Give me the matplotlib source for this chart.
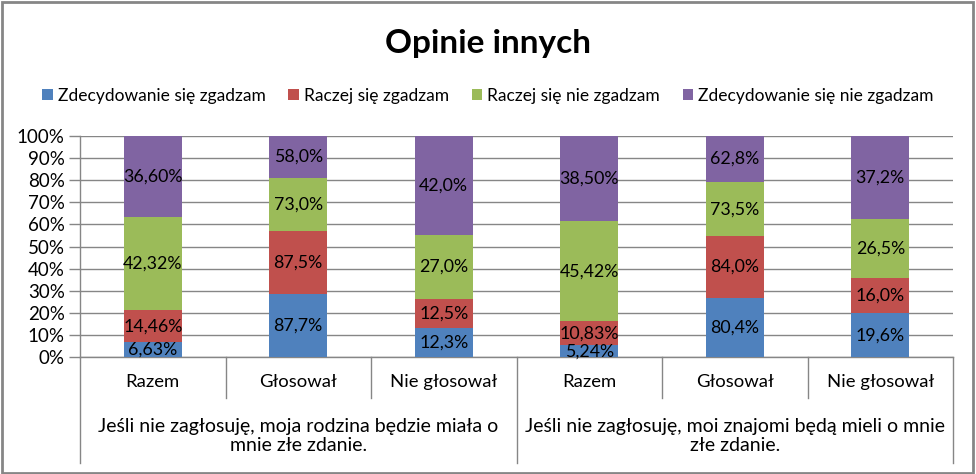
import numpy as np
import matplotlib.pyplot as plt
from matplotlib.patches import Rectangle

plt.rcParams['font.family'] = ['Lato', 'DejaVu Sans']

# Data
categories = ['Razem', 'Głosował', 'Nie głosował', 'Razem', 'Głosował', 'Nie głosował']
groups = ['Jeśli nie zagłosuję, moja rodzina będzie miała o\nmnie złe zdanie.',
          'Jeśli nie zagłosuję, moi znajomi będą mieli o mnie\nzłe zdanie.']
series = ['Zdecydowanie się zgadzam', 'Raczej się zgadzam',
          'Raczej się nie zgadzam', 'Zdecydowanie się nie zgadzam']
strongly_agree = [6.63, 87.7, 12.3, 5.24, 80.4, 19.6]
agree = [14.46, 87.5, 12.5, 10.83, 84.0, 16.0]
disagree = [42.32, 73.0, 27.0, 45.42, 73.5, 26.5]
strongly_disagree = [36.60, 58.0, 42.0, 38.50, 62.8, 37.2]
decimals = [2, 1, 1, 2, 1, 1]
colors = ['#4F81BD', '#C0504D', '#9BBB59', '#8064A2']

W, H = 976, 474
fig = plt.figure(figsize=(W / 100, H / 100), dpi=100)
ax = fig.add_axes([80 / W, (H - 357) / H, (953 - 80) / W, (357 - 136) / H])

values = np.array([strongly_agree, agree, disagree, strongly_disagree])
totals = values.sum(axis=0)
shares = values / totals * 100
x = np.arange(len(categories))
bottom = np.zeros(len(categories))
for i in range(4):
    bars = ax.bar(x, shares[i], 0.4, bottom=bottom, color=colors[i], label=series[i], zorder=3)
    for j, b in enumerate(bars):
        txt = f"{values[i, j]:.{decimals[j]}f}".replace('.', ',') + '%'
        ax.text(b.get_x() + b.get_width() / 2, bottom[j] + shares[i, j] / 2, txt,
                ha='center', va='center', fontsize=12.8, color='black', zorder=4)
    bottom += shares[i]

grid_c = '#868686'
ax.set_xlim(-0.5, len(categories) - 0.5)
ax.set_ylim(0, 100)
ax.set_yticks(np.arange(0, 101, 10))
ax.set_yticklabels([f'{t}%' for t in range(0, 101, 10)], fontsize=13.5)
ax.yaxis.grid(True, color=grid_c, linewidth=1, zorder=0)
ax.tick_params(axis='y', length=8, color=grid_c, width=1, pad=3)
ax.set_xticks([])
for s in ['top', 'right']:
    ax.spines[s].set_visible(False)
for s in ['left', 'bottom']:
    ax.spines[s].set_color(grid_c)
    ax.spines[s].set_linewidth(1)

# Multi-level category axis
trans = ax.get_xaxis_transform()
px = 1 / (357 - 136)  # one pixel in axes y units
for k in range(len(categories) + 1):
    edge = k - 0.5
    low = -106 * px if k % 3 == 0 else -41 * px
    ax.plot([edge, edge], [0, low], color=grid_c, linewidth=1, transform=trans, clip_on=False)
for j, c in enumerate(categories):
    ax.text(j, -25 * px, c, ha='center', va='center', fontsize=13.3, transform=trans)
for g, label in enumerate(groups):
    ax.text(g * 3 + 1, -79 * px, label, ha='center', va='center', fontsize=14,
            linespacing=1.15, transform=trans)

fig.suptitle('Opinie innych', fontsize=24, fontweight='bold', y=1 - 44 / H, va='center')
fig.legend(loc='center', bbox_to_anchor=(0.5, 1 - 96 / H), ncol=4, frameon=False,
           fontsize=12.5, handlelength=0.6, handleheight=0.6, handletextpad=0.3,
           columnspacing=1.3)

fig.patches.append(Rectangle((2 / W, 1 / H), 971 / W, 471 / H, transform=fig.transFigure,
                             fill=False, edgecolor=grid_c, linewidth=2))

fig.savefig('out.png', dpi=100)
